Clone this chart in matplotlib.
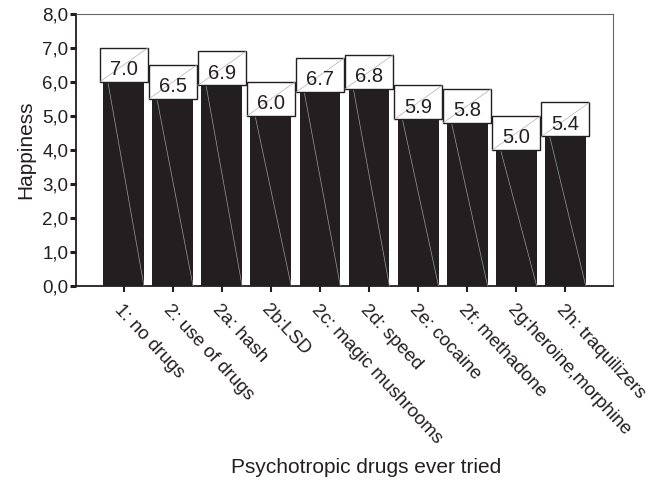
import matplotlib
matplotlib.use("Agg")
import matplotlib.pyplot as plt
from matplotlib.patches import Rectangle
from matplotlib.ticker import FuncFormatter

categories = ["1: no drugs", "2: use of drugs", "2a: hash", "2b:LSD",
              "2c: magic mushrooms", "2d: speed", "2e: cocaine",
              "2f: methadone", "2g:heroine,morphine", "2h: traquilizers"]
happiness = [7.0, 6.5, 6.9, 6.0, 6.7, 6.8, 5.9, 5.8, 5.0, 5.4]
yticks = [0, 1, 2, 3, 4, 5, 6, 7, 8]

plt.rcParams["font.family"] = ["Liberation Sans", "DejaVu Sans"]

fig = plt.figure(figsize=(6.51, 4.84), dpi=100)
ax = fig.add_axes([0.1167, 0.409, 0.825, 0.562])

dark = "#231f20"
x = list(range(len(categories)))
bar_w = 0.83
box_w = 0.98
ax.bar(x, happiness, width=bar_w, color=dark, edgecolor="none", zorder=2)

for xi, v in zip(x, happiness):
    # faint streak across each bar
    ax.plot([xi - 0.32, xi + bar_w / 2], [v - 1, 0], color="#9a9a9a",
            lw=0.5, zorder=3)
    # value box
    ax.add_patch(Rectangle((xi - box_w / 2, v - 1), box_w, 1.0,
                           facecolor="white", edgecolor=dark, lw=1.0,
                           zorder=4))
    ax.plot([xi - box_w / 2, xi + box_w / 2], [v - 1, v], color="#b0b0b0",
            lw=0.5, zorder=5)
    ax.text(xi, v - 0.8, f"{v:.1f}", ha="center", va="baseline",
            fontsize=14.5, color=dark, zorder=6)

ax.set_xlim(-0.97, 9.97)
ax.set_ylim(0, 8)
ax.set_yticks(yticks)
ax.yaxis.set_major_formatter(FuncFormatter(lambda v, p: f"{v:.1f}".replace(".", ",")))
ax.set_xticks(x)
ax.set_xticklabels(categories, rotation=-47, ha="left", va="top",
                   rotation_mode="anchor", fontsize=13.5, color=dark)
ax.tick_params(axis="y", labelsize=13.5, length=4, width=2.2, colors=dark, pad=1.5)
ax.tick_params(axis="x", length=4, width=1.5, colors=dark, pad=7)

for s in ["left", "bottom"]:
    ax.spines[s].set_color(dark)
    ax.spines[s].set_linewidth(1.3)
for s in ["top", "right"]:
    ax.spines[s].set_color("#666666")
    ax.spines[s].set_linewidth(0.8)

ax.set_ylabel("Happiness", fontsize=15, color=dark, labelpad=5)
fig.text(0.563, 0.035, "Psychotropic drugs ever tried", ha="center",
         va="center", fontsize=15, color=dark)

fig.savefig("out.png", dpi=100)
